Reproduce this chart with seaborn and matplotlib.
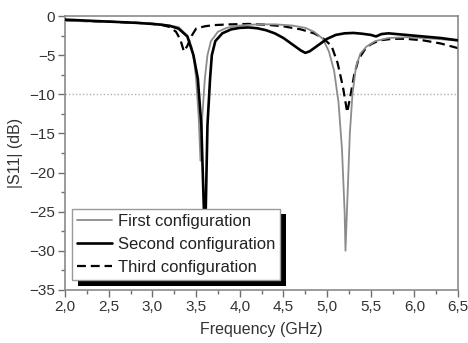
import numpy as np
import pandas as pd
import matplotlib
matplotlib.use("Agg")
import matplotlib.pyplot as plt
import matplotlib.patheffects as pe
from matplotlib.ticker import MultipleLocator
import seaborn as sns

# First configuration (gray)
freq_first = [2.0, 2.2, 2.4, 2.6, 2.8, 3.0, 3.1, 3.2, 3.3, 3.4, 3.45, 3.48, 3.5,
              3.53, 3.55, 3.57, 3.6, 3.63, 3.67, 3.75, 3.85, 4.0, 4.2, 4.4, 4.6,
              4.75, 4.85, 4.95, 5.02, 5.08, 5.13, 5.17, 5.2, 5.21, 5.23, 5.26,
              5.29, 5.33, 5.38, 5.45, 5.55, 5.7, 5.9, 6.1, 6.3, 6.5]
s11_first = [-0.6, -0.65, -0.7, -0.75, -0.85, -0.95, -1.05, -1.2, -1.4, -2.5, -4.0, -6.0, -8.0,
             -13.0, -18.5, -13.0, -8.0, -5.0, -3.2, -2.0, -1.5, -1.2, -1.05, -1.05, -1.2,
             -1.5, -2.0, -2.9, -4.5, -7.0, -11.0, -17.0, -25.0, -30.0, -24.0, -15.0,
             -10.0, -6.5, -4.8, -3.9, -3.2, -2.8, -2.7, -2.8, -2.95, -3.15]

# Second configuration (black solid)
freq_second = [2.0, 2.2, 2.4, 2.6, 2.8, 3.0, 3.1, 3.2, 3.3, 3.4, 3.47, 3.52, 3.56,
               3.59, 3.6, 3.61, 3.63, 3.66, 3.68, 3.72, 3.8, 3.9, 4.0, 4.1, 4.2,
               4.3, 4.4, 4.5, 4.6, 4.7, 4.75, 4.8, 4.9, 5.0, 5.1, 5.2, 5.3, 5.4,
               5.5, 5.56, 5.62, 5.7, 5.9, 6.1, 6.3, 6.5]
s11_second = [-0.45, -0.55, -0.65, -0.75, -0.85, -1.0, -1.1, -1.25, -1.6, -2.6, -5.0, -8.0, -14.0,
              -25.0, -30.0, -25.0, -14.0, -8.0, -5.0, -3.2, -2.2, -1.7, -1.5, -1.45, -1.55,
              -1.8, -2.2, -2.8, -3.6, -4.4, -4.7, -4.5, -3.7, -2.9, -2.4, -2.2, -2.15, -2.25,
              -2.4, -2.6, -2.3, -2.2, -2.4, -2.6, -2.8, -3.1]

# Third configuration (black dashed)
freq_third = [2.0, 2.3, 2.6, 2.9, 3.1, 3.2, 3.27, 3.32, 3.36, 3.4, 3.45, 3.5, 3.6,
              3.7, 3.9, 4.1, 4.3, 4.5, 4.7, 4.85, 4.95, 5.05, 5.12, 5.18, 5.23,
              5.27, 5.31, 5.36, 5.43, 5.5, 5.6, 5.75, 5.9, 6.1, 6.3, 6.5]
s11_third = [-0.55, -0.65, -0.75, -0.9, -1.1, -1.4, -2.0, -3.0, -4.5, -3.8, -2.5, -1.6, -1.3,
             -1.15, -1.05, -1.0, -1.1, -1.3, -1.7, -2.2, -2.8, -3.8, -6.0, -9.0, -12.3,
             -10.0, -7.5, -5.5, -4.3, -3.6, -3.1, -2.9, -2.9, -3.1, -3.5, -4.1]

labels = ["First configuration", "Second configuration", "Third configuration"]
x_ticks = [2.0, 2.5, 3.0, 3.5, 4.0, 4.5, 5.0, 5.5, 6.0, 6.5]
x_tick_labels = ["2,0", "2,5", "3,0", "3,5", "4,0", "4,5", "5,0", "5,5", "6,0", "6,5"]
y_ticks = [0, -5, -10, -15, -20, -25, -30, -35]

sns.set_theme(style="ticks")
plt.rcParams['font.family'] = ['Liberation Sans', 'DejaVu Sans']

fig = plt.figure(figsize=(4.68, 3.43), dpi=100)
ax = fig.add_axes([0.139, 0.155, 0.840, 0.798])

ax.axhline(-10, color="#b0b0b0", linestyle=(0, (1, 1.5)), linewidth=1.0, zorder=1)

df1 = pd.DataFrame({"f": freq_first, "s": s11_first})
df2 = pd.DataFrame({"f": freq_second, "s": s11_second})
df3 = pd.DataFrame({"f": freq_third, "s": s11_third})

sns.lineplot(data=df1, x="f", y="s", ax=ax, color="#8c8c8c", linewidth=1.3, label=labels[0], zorder=3)
sns.lineplot(data=df2, x="f", y="s", ax=ax, color="black", linewidth=1.9, label=labels[1], zorder=4)
sns.lineplot(data=df3, x="f", y="s", ax=ax, color="black", linewidth=1.6, label=labels[2], zorder=2)
ax.lines[-1].set_dashes((4, 2.2))

ax.set_xlim(2.0, 6.5)
ax.set_ylim(-35, 0)
ax.set_xticks(x_ticks)
ax.set_xticklabels(x_tick_labels)
ax.set_yticks(y_ticks)
ax.xaxis.set_minor_locator(MultipleLocator(0.25))
ax.yaxis.set_minor_locator(MultipleLocator(2.5))
ax.tick_params(which="major", direction="out", length=5, width=1, color="#707070",
               labelsize=11, labelcolor="#333333", pad=2)
ax.tick_params(which="minor", direction="out", length=3, width=1, color="#707070")

for sp in ax.spines.values():
    sp.set_color("#8a8a8a")
    sp.set_linewidth(1.2)
    sp.set_visible(True)

ax.set_xlabel("Frequency (GHz)", fontsize=11.5, color="#333333", labelpad=6)
ax.set_ylabel("|S11| (dB)", fontsize=11.5, color="#333333", labelpad=5)

leg = ax.legend(loc="lower left", bbox_to_anchor=(0.018, 0.035), fontsize=12,
                frameon=True, fancybox=False, handlelength=2.1, handletextpad=0.35,
                borderpad=0.3, labelspacing=0.5, borderaxespad=0)
frame = leg.get_frame()
frame.set_edgecolor("#9a9a9a")
frame.set_facecolor("white")
frame.set_alpha(1)
frame.set_linewidth(1.0)
frame.set_path_effects([pe.SimplePatchShadow(offset=(4, -4), shadow_rgbFace="black", alpha=1.0),
                        pe.Normal()])
for t in leg.get_texts():
    t.set_color("#222222")

fig.savefig("out.png", dpi=100)
